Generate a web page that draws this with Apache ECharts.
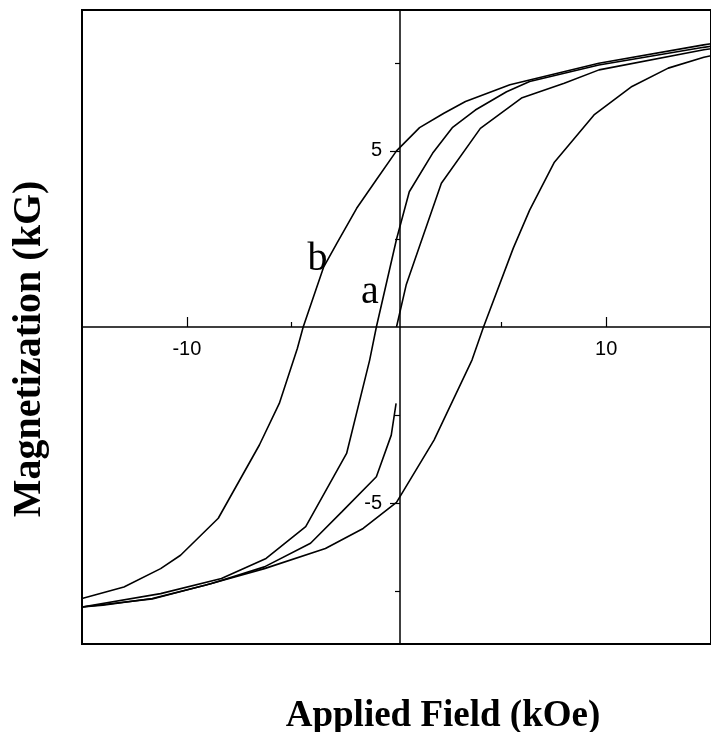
<!DOCTYPE html>
<html>
<head>
<meta charset="utf-8">
<script src="https://cdn.jsdelivr.net/npm/echarts@6/dist/echarts.min.js"></script>
<style>
html,body{margin:0;padding:0;background:#fff;}
#chart{width:711px;height:732px;}
</style>
</head>
<body>
<div id="chart"></div>
<script>
// Axis ticks / labels
const xMajorTicks = [-10, 10];
const xMinorTicks = [-5, 5];
const yMajorTicks = [-5, 5];
const yMinorTicks = [-7.5, -2.5, 2.5, 7.5];

// Curve b, descending branch
const bDescending = [
  [-15, -7.71], [-13.0, -7.38], [-11.25, -6.86], [-10.3, -6.48], [-8.5, -5.43],
  [-6.54, -3.35], [-5.59, -2.17], [-4.73, -0.61], [-4.45, 0], [-3.47, 1.71],
  [-2.84, 2.38], [-1.9, 3.37], [-0.96, 4.18], [0, 5.0], [1.1, 5.66],
  [2.26, 6.07], [3.29, 6.4], [5.41, 6.88], [9.65, 7.49], [14.65, 8.01], [15, 8.04]
];
// Curve b, ascending branch
const bAscending = [
  [-15, -7.95], [-14.0, -7.9], [-11.65, -7.71], [-9.13, -7.33], [-6.3, -6.86],
  [-3.39, -6.29], [-1.59, -5.72], [0, -4.98], [1.79, -3.21], [3.6, -0.94],
  [4.15, 0], [5.57, 2.24], [6.35, 3.32], [7.53, 4.68], [9.42, 6.02],
  [11.23, 6.83], [12.96, 7.35], [14.66, 7.66], [15, 7.7]
];
// Curve a, descending branch
const aDescending = [
  [-15, -7.95], [-11.25, -7.57], [-8.35, -7.14], [-6.22, -6.57], [-4.33, -5.67],
  [-2.38, -3.59], [-1.28, -0.94], [-0.96, 0], [0, 2.49], [0.61, 3.84],
  [1.72, 4.93], [2.66, 5.66], [3.76, 6.16], [5.25, 6.68], [6.35, 6.97],
  [9.65, 7.44], [14.65, 7.94], [15, 7.97]
];
// Curve a, ascending branch (lower part)
const aAscendingLow = [
  [-15, -7.95], [-11.65, -7.72], [-8.82, -7.28], [-6.3, -6.81], [-4.1, -6.14],
  [-2.61, -5.25], [-0.96, -4.25], [-0.25, -3.07], [-0.02, -2.17]
];
// Curve a, ascending branch (upper part, from origin)
const aAscendingHigh = [
  [0, 0], [0.46, 1.19], [1.09, 2.28], [2.14, 4.08], [4.0, 5.64],
  [5.96, 6.5], [8.0, 6.92], [9.66, 7.3], [14.66, 7.87], [15, 7.9]
];
// Curve annotations
const curveLabels = [
  { name: 'b', value: [-3.77, 1.93] },
  { name: 'a', value: [-1.27, 0.97] }
];

const X_MIN = -15, X_MAX = 15, Y_MIN = -9, Y_MAX = 9;
const GRID = { left: 82, right: -7, top: 10, bottom: 88 };
const W = 711, H = 732;
const gridW = W - GRID.left - GRID.right;
const gridH = H - GRID.top - GRID.bottom;
// shift the axes from the grid edges to the zero crossing
const xAxisOffset = -gridH * (0 - Y_MIN) / (Y_MAX - Y_MIN);
const yAxisOffset = -gridW * (0 - X_MIN) / (X_MAX - X_MIN);

const chart = echarts.init(document.getElementById('chart'), null, { renderer: 'canvas' });

function lineSeries(data) {
  return {
    type: 'line', data: data, xAxisIndex: 0, yAxisIndex: 0,
    symbol: 'none', smooth: false,
    lineStyle: { color: '#000', width: 1.6 },
    silent: true
  };
}

const tickFont = { color: '#000', fontFamily: '"Liberation Sans", Arial, sans-serif', fontSize: 20 };

const option = {
  animation: false,
  backgroundColor: '#fff',
  grid: {
    left: GRID.left, right: GRID.right, top: GRID.top, bottom: GRID.bottom,
    show: true, borderColor: '#000', borderWidth: 2, backgroundColor: 'transparent'
  },
  xAxis: [
    {
      type: 'value', min: X_MIN, max: X_MAX, interval: 5, position: 'bottom', offset: xAxisOffset,
      axisLine: { show: true, onZero: false, lineStyle: { color: '#000', width: 1.5 } },
      axisTick: { show: true, inside: true, length: 10, customValues: xMajorTicks, lineStyle: { color: '#000', width: 1.2 } },
      axisLabel: Object.assign({ show: true, margin: 12, customValues: xMajorTicks }, tickFont),
      splitLine: { show: false }
    },
    {
      type: 'value', min: X_MIN, max: X_MAX, interval: 5, position: 'bottom', offset: xAxisOffset,
      axisLine: { show: false, onZero: false },
      axisTick: { show: true, inside: true, length: 5, customValues: xMinorTicks, lineStyle: { color: '#000', width: 1.2 } },
      axisLabel: { show: false },
      splitLine: { show: false }
    }
  ],
  yAxis: [
    {
      type: 'value', min: Y_MIN, max: Y_MAX, position: 'left', offset: yAxisOffset,
      axisLine: { show: true, onZero: false, lineStyle: { color: '#000', width: 1.5 } },
      axisTick: { show: true, inside: false, length: 10, customValues: yMajorTicks, lineStyle: { color: '#000', width: 1.2 } },
      axisLabel: Object.assign({ show: true, margin: 18, customValues: yMajorTicks }, tickFont),
      splitLine: { show: false }
    },
    {
      type: 'value', min: Y_MIN, max: Y_MAX, position: 'left', offset: yAxisOffset,
      axisLine: { show: false, onZero: false },
      axisTick: { show: true, inside: false, length: 5, customValues: yMinorTicks, lineStyle: { color: '#000', width: 1.2 } },
      axisLabel: { show: false },
      splitLine: { show: false }
    }
  ],
  series: [
    lineSeries(bDescending),
    lineSeries(bAscending),
    lineSeries(aDescending),
    lineSeries(aAscendingLow),
    lineSeries(aAscendingHigh),
    {
      type: 'scatter', xAxisIndex: 0, yAxisIndex: 0,
      data: curveLabels, symbolSize: 0, itemStyle: { color: '#000', opacity: 1 },
      label: {
        show: true, position: 'inside', formatter: '{b}',
        color: '#000', opacity: 1,
        fontFamily: '"Liberation Serif", "Times New Roman", serif', fontSize: 40
      },
      silent: true
    }
  ],
  graphic: [
    {
      type: 'text', x: 30, y: 349, rotation: Math.PI / 2,
      style: {
        text: 'Magnetization (kG)', fill: '#000',
        font: 'bold 40px "Liberation Serif", "Times New Roman", serif',
        align: 'center', verticalAlign: 'middle'
      }
    },
    {
      type: 'text', x: 443, y: 716,
      style: {
        text: 'Applied Field (kOe)', fill: '#000',
        font: 'bold 37px "Liberation Serif", "Times New Roman", serif',
        align: 'center', verticalAlign: 'middle'
      }
    }
  ]
};
chart.setOption(option);
</script>
</body>
</html>
